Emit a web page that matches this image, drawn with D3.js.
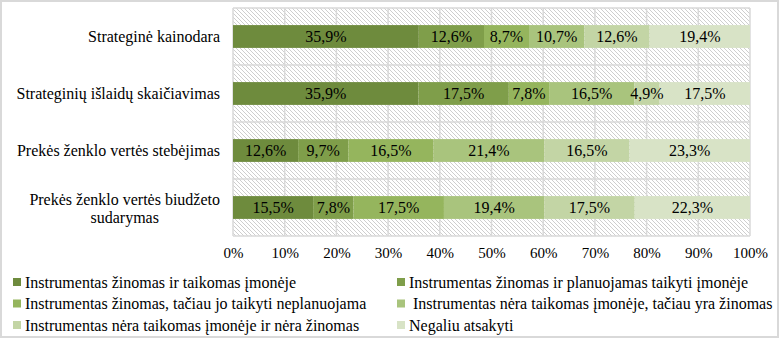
<!DOCTYPE html>
<html>
<head>
<meta charset="utf-8">
<script src="https://cdn.jsdelivr.net/npm/d3@7"></script>
<style>
  html, body { margin: 0; padding: 0; background: #fff; }
  svg { display: block; }
</style>
</head>
<body>
<svg id="chart" width="780" height="339"></svg>
<script>
const categories = [
  "Strateginė kainodara",
  "Strateginių išlaidų skaičiavimas",
  "Prekės ženklo vertės stebėjimas",
  "Prekės ženklo vertės biudžeto sudarymas"
];
const seriesNames = [
  "Instrumentas žinomas ir taikomas įmonėje",
  "Instrumentas žinomas ir planuojamas taikyti įmonėje",
  "Instrumentas žinomas, tačiau jo taikyti neplanuojama",
  " Instrumentas nėra taikomas įmonėje, tačiau yra žinomas",
  "Instrumentas nėra taikomas įmonėje ir nėra žinomas",
  "Negaliu atsakyti"
];
const s1 = [35.9, 35.9, 12.6, 15.5];
const s2 = [12.6, 17.5, 9.7, 7.8];
const s3 = [8.7, 7.8, 16.5, 17.5];
const s4 = [10.7, 16.5, 21.4, 19.4];
const s5 = [12.6, 4.9, 16.5, 17.5];
const s6 = [19.4, 17.5, 23.3, 22.3];
const xTicks = [0, 0.1, 0.2, 0.3, 0.4, 0.5, 0.6, 0.7, 0.8, 0.9, 1.0];
const colors = ["#6e8b3d", "#7f9e4a", "#95b55d", "#a9c47d", "#c3d5a5", "#d8e3c6"];

const FONT = "'Liberation Serif', 'Times New Roman', serif";
const seriesValues = [s1, s2, s3, s4, s5, s6];
const keys = seriesNames.map((d, i) => "k" + i);
const table = categories.map((c, j) => {
  const row = { cat: c };
  keys.forEach((k, i) => row[k] = seriesValues[i][j]);
  return row;
});

const svg = d3.select("#chart");
const pLeft = 233, pRight = 750, pTop = 8, pBottom = 236;

const x = d3.scaleLinear().domain([0, 1]).range([pLeft, pRight]);
const y = d3.scaleBand().domain(categories).range([pTop, pBottom]).paddingInner(0.6).paddingOuter(0.3);

// outer border
svg.append("rect").attr("x", 1).attr("y", 1).attr("width", 777).attr("height", 336)
  .attr("fill", "#fff").attr("stroke", "#d9d9d9").attr("stroke-width", 2);

// hatch pattern
const defs = svg.append("defs");
const pat = defs.append("pattern").attr("id", "hatch").attr("patternUnits", "userSpaceOnUse")
  .attr("width", 4).attr("height", 4);
pat.append("rect").attr("width", 4).attr("height", 4).attr("fill", "#fff");
pat.append("path").attr("d", "M-1,-1 L5,5 M-1,3 L1,5 M3,-1 L5,1")
  .attr("stroke", "#c8c8c8").attr("stroke-width", 0.9);

svg.append("rect").attr("x", pLeft).attr("y", pTop).attr("width", pRight - pLeft).attr("height", pBottom - pTop)
  .attr("fill", "url(#hatch)");

// gridlines
svg.append("g").selectAll("line").data(xTicks).join("line")
  .attr("x1", d => x(d)).attr("x2", d => x(d)).attr("y1", pTop).attr("y2", pBottom)
  .attr("stroke", "#d9d9d9").attr("stroke-width", 1.5);
const hLines = [pTop].concat(categories.map(c => y(c) + y.bandwidth() + y.step() * y.paddingInner() / 2));
hLines[hLines.length - 1] = pBottom;
svg.append("g").selectAll("line").data(hLines).join("line")
  .attr("x1", pLeft).attr("x2", pRight).attr("y1", d => d).attr("y2", d => d)
  .attr("stroke", "#d9d9d9").attr("stroke-width", 1.5);

// stacked bars
const stack = d3.stack().keys(keys).offset(d3.stackOffsetExpand);
const layers = stack(table);

const gL = svg.append("g").selectAll("g").data(layers).join("g")
  .attr("fill", (d, i) => colors[i]);
gL.selectAll("rect").data(d => d).join("rect")
  .attr("x", d => x(d[0])).attr("width", d => x(d[1]) - x(d[0]))
  .attr("y", d => y(d.data.cat)).attr("height", y.bandwidth());

const fmt = v => v.toFixed(1).replace(".", ",") + "%";
svg.append("g").selectAll("g").data(layers).join("g")
  .each(function(layer) {
    d3.select(this).selectAll("text").data(layer).join("text")
      .attr("x", d => (x(d[0]) + x(d[1])) / 2)
      .attr("y", d => y(d.data.cat) + y.bandwidth() / 2)
      .attr("dy", "0.35em")
      .attr("text-anchor", "middle")
      .style("font-family", FONT)
      .style("font-size", "16px")
      .attr("fill", "#000")
      .text(d => fmt(d.data[layer.key]));
  });

// x axis
const xAxis = svg.append("g").attr("transform", `translate(0,${pBottom})`)
  .call(d3.axisBottom(x).tickValues(xTicks).tickFormat(d3.format(".0%")).tickSize(0).tickPadding(11));
xAxis.select(".domain").remove();
xAxis.selectAll("text").style("font-size", "15px").style("font-family", FONT).attr("fill", "#000");

// category labels
const yAxis = svg.append("g").attr("transform", `translate(${pLeft},0)`)
  .call(d3.axisLeft(y).tickSize(0).tickPadding(13));
yAxis.select(".domain").remove();
yAxis.selectAll("text").style("font-size", "16px").style("font-family", FONT).attr("fill", "#000")
  .each(function(d) {
    const t = d3.select(this);
    if (d === categories[3]) {
      t.text(null).attr("dy", null);
      const xx = +t.attr("x");
      const t1 = t.append("tspan").attr("x", xx).attr("y", -2.5).text("Prekės ženklo vertės biudžeto");
      const t2 = t.append("tspan").attr("x", xx).attr("y", 15.5).text("sudarymas");
      const w1 = t1.node().getComputedTextLength();
      const w2 = t2.node().getComputedTextLength();
      t2.attr("x", xx - w1 / 2 + w2 / 2);
    }
  });

// legend
const legPos = [
  [13, 282], [397, 282],
  [13, 303.5], [397, 303.5],
  [13, 325], [397, 325]
];
const leg = svg.append("g").selectAll("g").data(seriesNames).join("g")
  .attr("transform", (d, i) => `translate(${legPos[i][0]},${legPos[i][1]})`);
leg.append("rect").attr("x", 0).attr("y", -4).attr("width", 8).attr("height", 8)
  .attr("fill", (d, i) => colors[i]);
leg.append("text").attr("x", 12).attr("dy", "0.35em")
  .style("font-size", "16px").style("font-family", FONT).attr("fill", "#000")
  .style("white-space", "pre")
  .text(d => d);
</script>
</body>
</html>
